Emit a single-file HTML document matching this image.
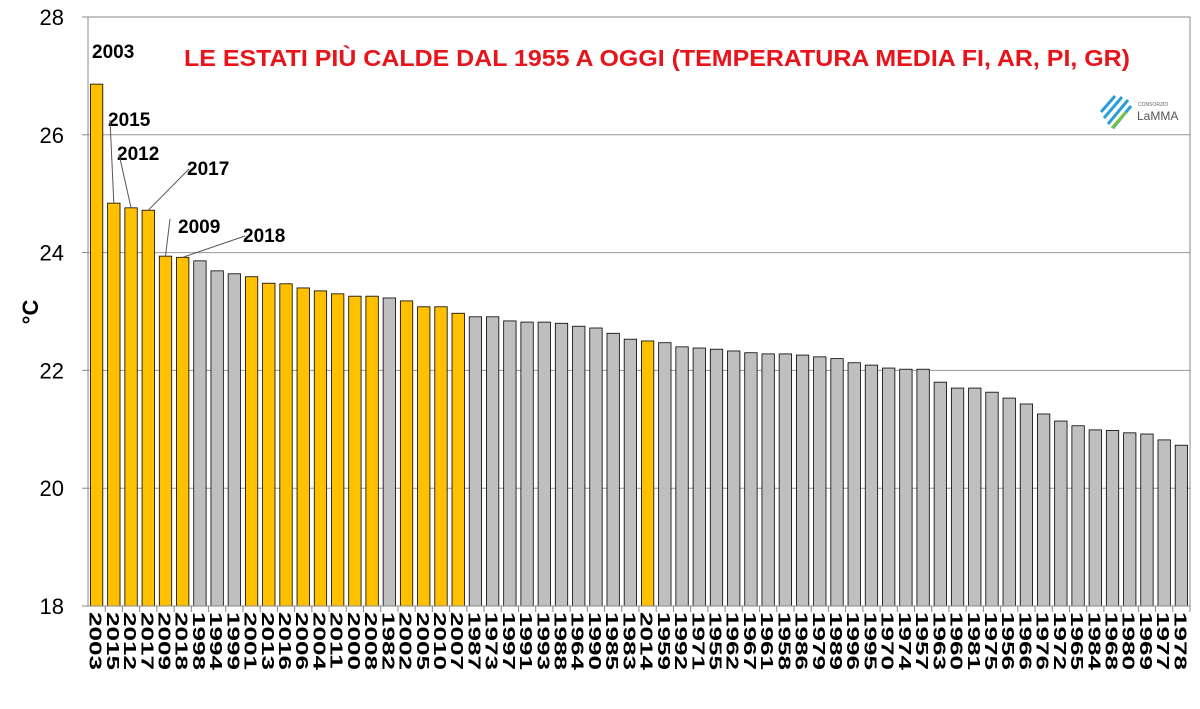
<!DOCTYPE html>
<html><head><meta charset="utf-8"><style>
body{margin:0;background:#fff;width:1200px;height:704px;overflow:hidden;font-family:"Liberation Sans",Arial,sans-serif}
</style></head><body>
<svg id="chart" width="1200" height="704" xmlns="http://www.w3.org/2000/svg" font-family="Liberation Sans, Arial, sans-serif">
<g id="grid"></g><g id="bars"></g><g id="axes"></g><g id="labels"></g>
<text x="657" y="66" text-anchor="middle" fill="#e8141b" font-size="23" font-weight="bold" textLength="946" lengthAdjust="spacingAndGlyphs">LE ESTATI PIÙ CALDE DAL 1955 A OGGI (TEMPERATURA MEDIA FI, AR, PI, GR)</text>
<text transform="translate(38,312) rotate(-90)" text-anchor="middle" font-size="22" font-weight="bold">°C</text>
<g>
<path d="M1101 112 L1115 96 M1104 118 L1122 97 M1108 124 L1128 100 M1113 128 L1131 106" stroke="#2a9fd6" stroke-width="3" fill="none"/>
<path d="M1112 128 L1126 112" stroke="#7cc242" stroke-width="3"/>
<text x="1138" y="106" font-size="5" fill="#666">CONSORZIO</text>
<text x="1137" y="120" font-size="12" fill="#555">LaMMA</text>
</g>
<g id="annot"></g>
</svg>
<script>
const years=[2003,2015,2012,2017,2009,2018,1998,1994,1999,2001,2013,2016,2006,2004,2011,2000,2008,1982,2002,2005,2010,2007,1987,1973,1997,1991,1993,1988,1964,1990,1985,1983,2014,1959,1992,1971,1955,1962,1967,1961,1958,1986,1979,1989,1996,1995,1970,1974,1957,1963,1960,1981,1975,1956,1966,1976,1972,1965,1984,1968,1980,1969,1977,1978];
const temps=[26.86,24.84,24.76,24.72,23.94,23.92,23.86,23.69,23.64,23.59,23.48,23.47,23.4,23.35,23.3,23.26,23.26,23.23,23.18,23.08,23.08,22.97,22.91,22.91,22.84,22.82,22.82,22.8,22.75,22.72,22.63,22.53,22.5,22.47,22.4,22.38,22.36,22.33,22.3,22.28,22.28,22.26,22.23,22.2,22.13,22.09,22.04,22.02,22.02,21.8,21.7,21.7,21.63,21.53,21.43,21.26,21.14,21.06,20.99,20.98,20.94,20.92,20.82,20.73];
const yTicks=[18,20,22,24,26,28];
const annotYears=[2003,2015,2012,2017,2009,2018];
const annotPos=[[92,58],[108,126],[117,160],[187,175],[178,233],[243,242]];
const NS="http://www.w3.org/2000/svg";
const L=88,R=1190,T=17,B=606,ymin=18,ymax=28;
const step=(R-L)/years.length;
const y=v=>B-(v-ymin)/(ymax-ymin)*(B-T);
const x=i=>L+step*i+step/2;
function mk(tag,at,p){const e=document.createElementNS(NS,tag);for(const k in at)e.setAttribute(k,at[k]);document.getElementById(p).appendChild(e);return e;}
yTicks.forEach(t=>{
 if(t>ymin){const g=mk('line',{x1:L,x2:R,y1:y(t),y2:y(t),stroke:'#9a9a9a','stroke-width':1},'grid');
 
 }
 const tl=mk('text',{x:L-24,y:y(t)+8,'text-anchor':'end','font-size':22},'axes');tl.textContent=t;
 
 
 mk('line',{x1:L-6,x2:L,y1:y(t),y2:y(t),stroke:'#888'},'axes');
});
mk('line',{x1:L,x2:L,y1:T,y2:B,stroke:'#888'},'axes');
mk('line',{x1:L,x2:R,y1:B,y2:B,stroke:'#888'},'axes');
mk('line',{x1:R,x2:R,y1:T,y2:B,stroke:'#888'},'axes');
mk('line',{x1:L,x2:R,y1:T,y2:T,stroke:'#888'},'axes');
const bw=step*0.72;
years.forEach((yr,i)=>{
 const r=mk('rect',{x:x(i)-bw/2,y:y(temps[i]),width:bw,height:B-y(temps[i]),fill:yr>=2000?'#ffc000':'#bfbfbf',stroke:'#000','stroke-width':0.8},'bars');
 
 
 mk('line',{x1:L+step*(i+1),x2:L+step*(i+1),y1:B,y2:B+6,stroke:'#888'},'axes');
 const t=mk('text',{transform:`translate(${x(i)-7},612) rotate(90) scale(1.45,1)`,'font-size':18,'font-weight':'bold'},'labels');
 t.textContent=yr;
 
 
});
annotYears.forEach((yr,k)=>{
 const i=years.indexOf(yr);const [ax,ay]=annotPos[k];
 const t=mk('text',{x:ax,y:ay,'font-size':19,'font-weight':'bold'},'annot');t.textContent=yr;
 
 
 if(k>0){mk('line',{x1:x(i),y1:y(temps[i]),x2:ax+(k==4?-8:2),y2:ay-(k==4?14:6),stroke:'#555'},'annot');}
});
</script>
</body></html>
